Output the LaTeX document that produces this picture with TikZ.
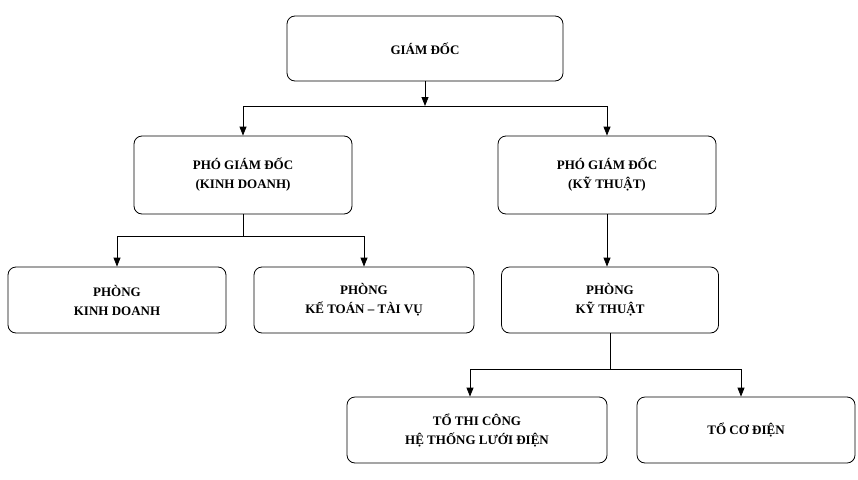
\documentclass[tikz,border=0pt]{standalone}
\usepackage{fontspec}
\setmainfont{Liberation Serif}
\usetikzlibrary{positioning}
\usetikzlibrary{arrows.meta}

\tikzset{
  box/.style={draw, rounded corners=8pt, line width=0.8pt, align=center,
    font=\fontsize{13}{19}\selectfont\bfseries, inner sep=0pt},
  link/.style={line width=0.8pt},
  arr/.style={link, -{Triangle[length=9pt,width=7pt]}}
}

\begin{document}
\begin{tikzpicture}[x=1pt,y=-1pt]
\useasboundingbox (0,0) rectangle (858,479);

% hop
\node[box, minimum width=276pt, minimum height=65pt] (gd) at (425,48.5) {GIÁM ĐỐC};
\node[box, minimum width=218pt, minimum height=78pt] (pkd) at (243,175) {PHÓ GIÁM ĐỐC\\(KINH DOANH)};
\node[box, minimum width=218pt, minimum height=78pt] (pkt) at (607,175) {PHÓ GIÁM ĐỐC\\(KỸ THUẬT)};
\node[box, minimum width=218pt, minimum height=66pt] (rkd) at (117,300) {PHÒNG\\KINH DOANH};
\node[box, minimum width=220pt, minimum height=66pt] (rtv) at (364,300) {PHÒNG\\KẾ TOÁN -- TÀI VỤ};
\node[box, minimum width=217pt, minimum height=66pt] (rkt) at (610,300) {PHÒNG\\KỸ THUẬT};
\node[box, minimum width=260pt, minimum height=66pt] (ttc) at (477,430) {TỔ THI CÔNG\\HỆ THỐNG LƯỚI ĐIỆN};
\node[box, minimum width=218pt, minimum height=66pt] (tcd) at (746,430) {TỔ CƠ ĐIỆN};

% noi
\coordinate (j1) at (425,106);
\coordinate (j2) at (243,236);
\coordinate (j3) at (610,369);

\draw[arr] (gd.south) -- (j1);
\draw[arr] (j1) -| (pkd.north);
\draw[arr] (j1) -| (pkt.north);

\draw[link] (pkd.south) -- (j2);
\draw[arr] (j2) -| (rkd.north);
\draw[arr] (j2) -| (rtv.north);

\draw[arr] (pkt.south) -- (pkt.south |- rkt.north);

\draw[link] (rkt.south) -- (j3);
\draw[arr] (j3) -| (ttc.north -| 470,0);
\draw[arr] (j3) -| (tcd.north -| 741,0);
\end{tikzpicture}
\end{document}
